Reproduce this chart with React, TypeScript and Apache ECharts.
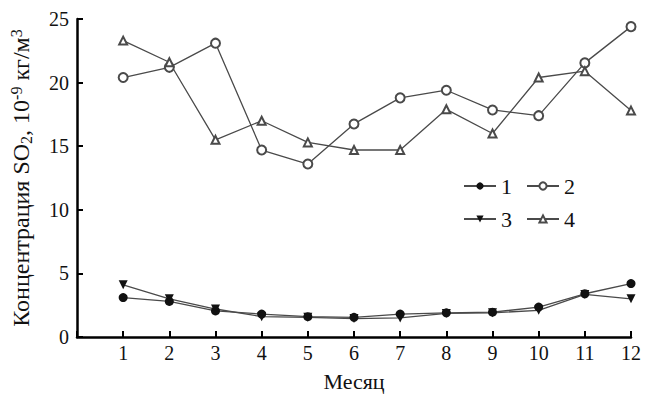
import React, { useEffect, useRef } from "react";
import * as echarts from "echarts";

// Months of the year (x positions)
const months = [1, 2, 3, 4, 5, 6, 7, 8, 9, 10, 11, 12];

// SO2 concentration, 10^-9 kg/m^3, one array per station
const series1 = [3.1, 2.8, 2.05, 1.8, 1.6, 1.55, 1.8, 1.9, 1.95, 2.35, 3.4, 4.2];
const series2 = [20.4, 21.2, 23.1, 14.7, 13.6, 16.75, 18.8, 19.4, 17.85, 17.4, 21.55, 24.4];
const series3 = [4.1, 3.0, 2.2, 1.6, 1.55, 1.45, 1.5, 1.85, 1.9, 2.1, 3.35, 3.0];
const series4 = [23.3, 21.6, 15.5, 17.0, 15.3, 14.7, 14.7, 17.9, 16.0, 20.4, 20.9, 17.8];

const seriesNames = ["1", "2", "3", "4"];
const yTicks = [0, 5, 10, 15, 20, 25];

const FONT = "Liberation Serif, DejaVu Serif, Times New Roman, serif";
const LINE = "#4a4a4a";
const INK = "#111111";

export default function App() {
  const ref = useRef<HTMLDivElement>(null);

  useEffect(() => {
    if (!ref.current) return;
    const chart = echarts.init(ref.current, null, { renderer: "svg" });

    const pair = (vals: number[]) => months.map((m, i) => [m, vals[i]]);

    const base = {
      type: "line" as const,
      lineStyle: { color: LINE, width: 1.3 },
      z: 3,
    };

    const legendBase = {
      left: 458,
      itemWidth: 32,
      itemHeight: 9,
      itemGap: 14,
      textStyle: { fontFamily: FONT, fontSize: 22, color: INK },
    };

    chart.setOption({
      animation: false,
      backgroundColor: "#ffffff",
      textStyle: { fontFamily: FONT, color: INK },
      grid: { left: 77, right: 14, top: 19, bottom: 57, containLabel: false, outerBoundsMode: "none" },
      xAxis: {
        type: "value",
        min: 0,
        max: 12,
        interval: 1,
        name: "Месяц",
        nameLocation: "middle",
        nameGap: 33,
        nameTextStyle: { fontFamily: FONT, fontSize: 22, color: INK },
        axisLine: { show: true, lineStyle: { color: "#000", width: 2.5 } },
        axisTick: { show: true, inside: true, length: 6, lineStyle: { color: "#000", width: 2 } },
        axisLabel: {
          fontFamily: FONT,
          fontSize: 20,
          color: INK,
          margin: 6,
          formatter: (v: number) => (v === 0 ? "" : String(v)),
        },
        splitLine: { show: false },
      },
      yAxis: {
        type: "value",
        min: 0,
        max: yTicks[yTicks.length - 1],
        interval: 5,
        name: "Концентрация SO{sub|2}, 10{sup|-9} кг/м{sup|3}",
        nameLocation: "middle",
        nameRotate: 90,
        nameGap: 43,
        nameTextStyle: {
          fontFamily: FONT,
          fontSize: 24,
          color: INK,
          rich: {
            sub: { fontFamily: FONT, fontSize: 16, color: INK, verticalAlign: "bottom", padding: [10, 0, 0, 0] },
            sup: { fontFamily: FONT, fontSize: 16, color: INK, verticalAlign: "top", padding: [0, 0, 10, 0] },
          },
        },
        axisLine: { show: true, lineStyle: { color: "#000", width: 2.5 } },
        axisTick: { show: true, inside: true, length: 6, lineStyle: { color: "#000", width: 2 } },
        axisLabel: { fontFamily: FONT, fontSize: 20, color: INK, margin: 8 },
        splitLine: { show: false },
      },
      legend: [
        { ...legendBase, data: [seriesNames[0], seriesNames[1]], top: 170 },
        { ...legendBase, data: [seriesNames[2], seriesNames[3]], top: 203 },
      ],
      series: [
        {
          ...base,
          name: seriesNames[0],
          data: pair(series1),
          symbol: "circle",
          symbolSize: 9,
          itemStyle: { color: INK },
        },
        {
          ...base,
          name: seriesNames[1],
          data: pair(series2),
          symbol: "emptyCircle",
          symbolSize: 9,
          itemStyle: { color: LINE, borderWidth: 1.3 },
        },
        {
          ...base,
          name: seriesNames[2],
          data: pair(series3),
          symbol: "triangle",
          symbolRotate: 180,
          symbolSize: 9,
          itemStyle: { color: INK },
        },
        {
          ...base,
          name: seriesNames[3],
          data: pair(series4),
          symbol: "emptyTriangle",
          symbolSize: 8,
          itemStyle: { color: LINE, borderWidth: 1.3 },
        },
      ],
    });

    return () => chart.dispose();
  }, []);

  return (
    <div
      ref={ref}
      style={{
        position: "fixed",
        left: 0,
        top: 0,
        width: 645,
        height: 394,
        background: "#fff",
        fontFamily: "'Liberation Serif', serif",
      }}
    />
  );
}
